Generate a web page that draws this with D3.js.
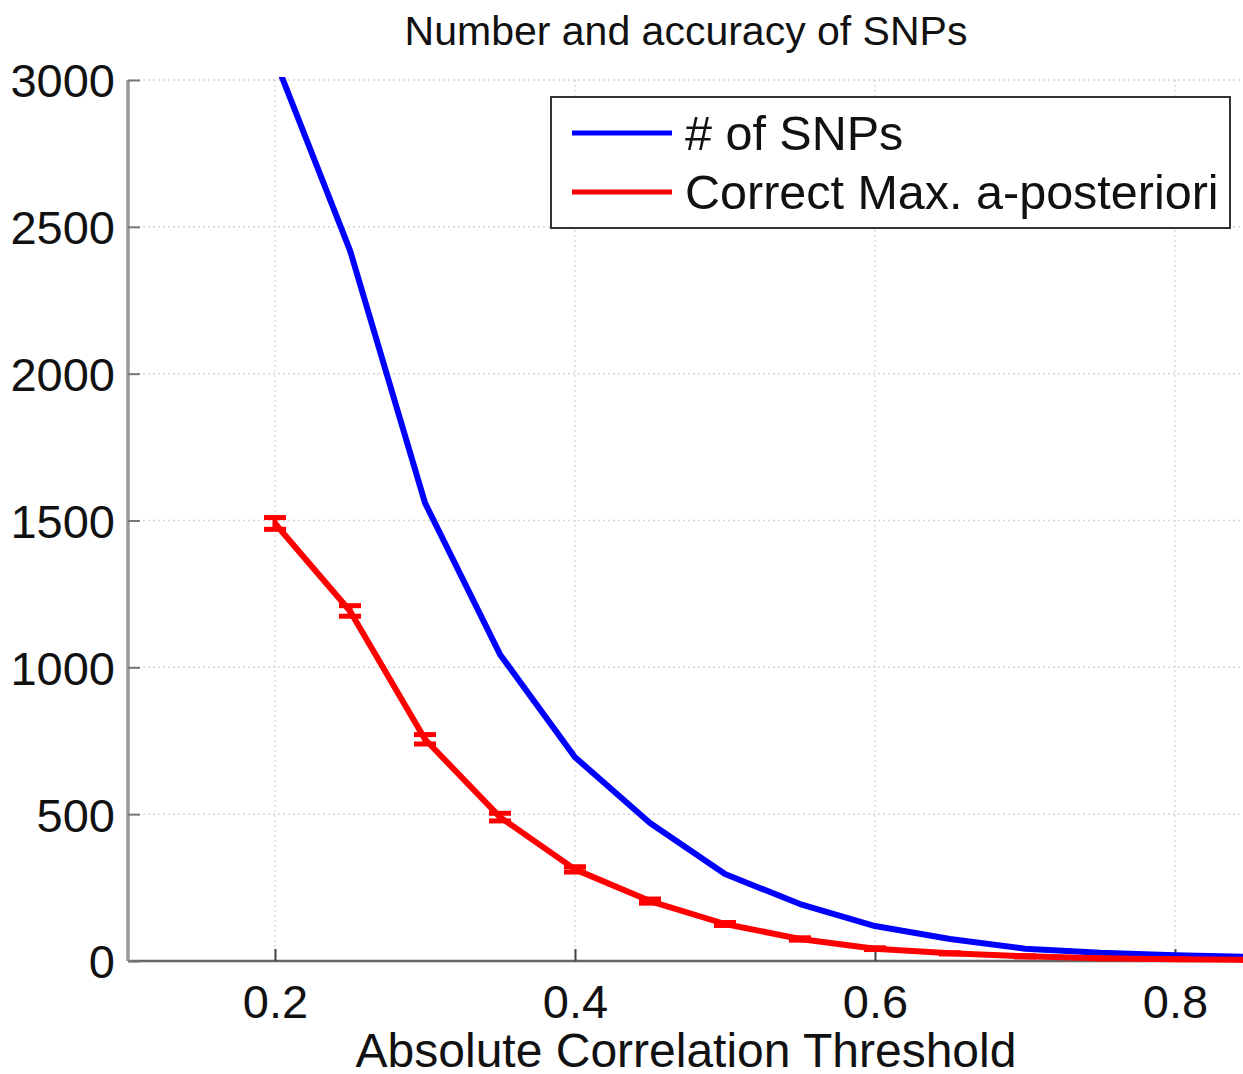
<!DOCTYPE html>
<html><head><meta charset="utf-8">
<script src="https://cdn.jsdelivr.net/npm/d3@7"></script>
<style>body{margin:0;background:#fff}svg{display:block}text{font-family:"Liberation Sans",Arial,sans-serif;fill:#111}</style>
</head><body>
<svg id="c" width="1243" height="1074"></svg>
<script>
const thresholds = [0.2,0.25,0.3,0.35,0.4,0.45,0.5,0.55,0.6,0.65,0.7,0.75,0.8,0.85];
const numSNPs   = [3070,2420,1560,1044,694,470,296,194,119,75,42,28,20,14];
const correctMAP= [1490,1192,755,490,312,204,126,75,42,26,16,9,6,4];
const correctErr= [20,18,16,13,9,7,5,4,3,2,2,1,1,1];
const xTicks = [0.2,0.4,0.6,0.8];
const yTicks = [0,500,1000,1500,2000,2500,3000];
const seriesNames = ["# of SNPs","Correct Max. a-posteriori"];
const colors = ["#0000ff","#ff0000"];

const svg = d3.select("#c");
const L=128, R=1243, T=80, B=961;
const x = d3.scaleLinear().domain([0.2,0.8]).range([275,1175]);
const y = d3.scaleLinear().domain([0,3000]).range([B,T]);

svg.append("defs").append("clipPath").attr("id","clip")
  .append("rect").attr("x",L).attr("y",T-3).attr("width",R-L).attr("height",B-T+6);

// grid
const g = svg.append("g");
g.selectAll(".gx").data(xTicks).enter().append("line")
  .attr("x1",d=>x(d)).attr("x2",d=>x(d)).attr("y1",T).attr("y2",B)
  .attr("stroke","#d4d4d4").attr("stroke-width",1.2).attr("stroke-dasharray","2,3");
g.selectAll(".gy").data(yTicks.filter(d=>d>0)).enter().append("line")
  .attr("x1",L).attr("x2",R).attr("y1",d=>y(d)).attr("y2",d=>y(d))
  .attr("stroke","#d4d4d4").attr("stroke-width",1.5).attr("stroke-dasharray","2,3");

// axes
const xAxis = d3.axisBottom(x).tickValues(xTicks).tickFormat(d3.format(".1f")).tickSizeInner(-12).tickSizeOuter(0).tickPadding(24);
const gx = svg.append("g").attr("transform",`translate(0,${B})`).call(xAxis);
gx.select(".domain").attr("stroke","#666").attr("stroke-width",2.5).attr("d",`M${L},0H${R}`);
gx.selectAll(".tick line").attr("stroke","#444").attr("stroke-width",2);
gx.selectAll(".tick text").attr("font-size",47).attr("fill","#111").attr("font-family","Liberation Sans, Arial, sans-serif").attr("dy","0.71em");

const yAxis = d3.axisLeft(y).tickValues(yTicks).tickFormat(d3.format("d")).tickSizeInner(-12).tickSizeOuter(0).tickPadding(13);
const gy = svg.append("g").attr("transform",`translate(${L},0)`).call(yAxis);
gy.select(".domain").attr("stroke","#999").attr("stroke-width",3.5).attr("d",`M0,${B}V${T}`);
gy.selectAll(".tick line").attr("stroke","#777").attr("stroke-width",2);
gy.selectAll(".tick text").attr("font-size",47).attr("fill","#111").attr("font-family","Liberation Sans, Arial, sans-serif").attr("dy","0.36em");

// lines
const plot = svg.append("g").attr("clip-path","url(#clip)");
const line = d3.line().x(d=>x(d[0])).y(d=>y(d[1]));
plot.append("path").datum(thresholds.map((t,i)=>[t,numSNPs[i]]))
  .attr("d",line).attr("fill","none").attr("stroke",colors[0]).attr("stroke-width",6).attr("stroke-linejoin","round");
plot.append("path").datum(thresholds.map((t,i)=>[t,correctMAP[i]]))
  .attr("d",line).attr("fill","none").attr("stroke",colors[1]).attr("stroke-width",6).attr("stroke-linejoin","round");
// error bars
const eb = plot.append("g").attr("stroke",colors[1]).attr("stroke-width",5);
thresholds.forEach((t,i)=>{
  const cx=x(t), y1=y(correctMAP[i]+correctErr[i]), y2=y(correctMAP[i]-correctErr[i]);
  eb.append("line").attr("x1",cx).attr("x2",cx).attr("y1",y1).attr("y2",y2);
  eb.append("line").attr("x1",cx-11).attr("x2",cx+11).attr("y1",y1).attr("y2",y1);
  eb.append("line").attr("x1",cx-11).attr("x2",cx+11).attr("y1",y2).attr("y2",y2);
});

// title
svg.append("text").attr("x",686).attr("y",45).attr("text-anchor","middle").attr("font-size",41).text("Number and accuracy of SNPs");
// x label
svg.append("text").attr("x",686).attr("y",1067).attr("text-anchor","middle").attr("font-size",48).text("Absolute Correlation Threshold");

// legend
const lg = svg.append("g");
lg.append("rect").attr("x",551).attr("y",97).attr("width",679).attr("height",131)
  .attr("fill","#fff").attr("stroke","#333").attr("stroke-width",2);
seriesNames.forEach((n,i)=>{
  const yy = 133 + i*59;
  lg.append("line").attr("x1",572).attr("x2",672).attr("y1",yy).attr("y2",yy).attr("stroke",colors[i]).attr("stroke-width",5);
  lg.append("text").attr("x",685).attr("y",yy).attr("dy","0.36em").attr("font-size",48.5).text(n);
});
</script>
</body></html>
